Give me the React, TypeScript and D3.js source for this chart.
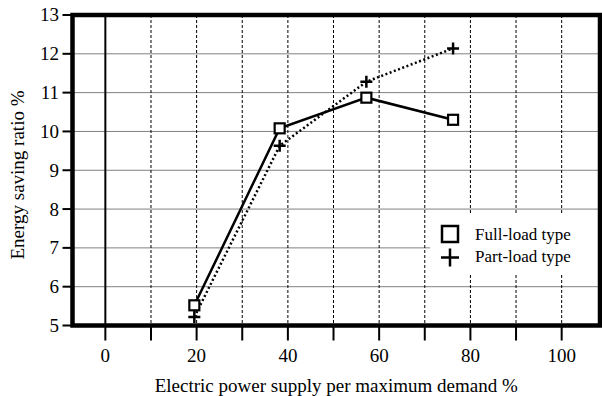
import React, { useEffect, useRef } from 'react';
import * as d3 from 'd3';

// values
const fullX = [19.5, 38.2, 57.2, 76.2];
const fullY = [5.52, 10.08, 10.87, 10.3];
const partX = [19.5, 38.2, 57.2, 76.2];
const partY = [5.22, 9.63, 11.28, 12.14];

const xTickLabels = [0, 20, 40, 60, 80, 100];
const xTicks = [0, 10, 20, 30, 40, 50, 60, 70, 80, 90, 100];
const yTicks = [5, 6, 7, 8, 9, 10, 11, 12, 13];

const seriesNames = ['Full-load type', 'Part-load type'];
const xTitle = 'Electric power supply per maximum demand %';
const yTitle = 'Energy saving ratio %';

const FONT = "'Liberation Serif', 'DejaVu Serif', serif";

export default function App() {
  const ref = useRef<SVGSVGElement>(null);

  useEffect(() => {
    const svg = d3.select(ref.current);
    svg.selectAll('*').remove();

    const left = 72.5, right = 600, top = 15, bottom = 325.5;

    const x = d3.scaleLinear().domain([-7.2, 108.4]).range([left, right]);
    const y = d3.scaleLinear().domain([5, 13]).range([bottom, top]);

    svg.append('rect').attr('width', 602).attr('height', 396).attr('fill', '#fff');

    const g = svg.append('g');

    // horizontal grid, fine dotted
    g.selectAll('.hgrid')
      .data(yTicks.filter(d => d > 5 && d < 13))
      .enter().append('line')
      .attr('x1', left).attr('x2', right)
      .attr('y1', d => y(d)).attr('y2', d => y(d))
      .attr('stroke', '#000').attr('stroke-width', 1)
      .attr('stroke-dasharray', '1,1');

    // vertical grid, dashed (0 is solid)
    g.selectAll('.vgrid')
      .data(xTicks)
      .enter().append('line')
      .attr('x1', d => x(d)).attr('x2', d => x(d))
      .attr('y1', top).attr('y2', bottom)
      .attr('stroke', '#000')
      .attr('stroke-width', d => d === 0 ? 2 : 1)
      .attr('stroke-dasharray', d => d === 0 ? null : '3,2');

    // legend background hides the grid behind it
    g.append('rect')
      .attr('x', 430).attr('y', 213).attr('width', 168).attr('height', 62)
      .attr('fill', '#fff');

    // x ticks below axis
    g.selectAll('.xtick')
      .data(xTicks)
      .enter().append('line')
      .attr('x1', d => x(d)).attr('x2', d => x(d))
      .attr('y1', bottom).attr('y2', bottom + 15)
      .attr('stroke', '#000').attr('stroke-width', 2);

    g.selectAll('.xlab')
      .data(xTickLabels)
      .enter().append('text')
      .attr('x', d => x(d)).attr('y', 362)
      .attr('text-anchor', 'middle')
      .style('font-family', FONT).style('font-size', '19px')
      .text(d => d);

    // y ticks left of axis
    g.selectAll('.ytick')
      .data(yTicks)
      .enter().append('line')
      .attr('x1', left - 10).attr('x2', left)
      .attr('y1', d => y(d)).attr('y2', d => y(d))
      .attr('stroke', '#000').attr('stroke-width', 2);

    g.selectAll('.ylab')
      .data(yTicks)
      .enter().append('text')
      .attr('x', 59).attr('y', d => y(d))
      .attr('dy', '0.34em')
      .attr('text-anchor', 'end')
      .style('font-family', FONT).style('font-size', '19px')
      .text(d => d);

    // lines
    const line = d3.line<[number, number]>()
      .x(d => x(d[0]))
      .y(d => y(d[1]));

    const fullData: [number, number][] = fullX.map((v, i) => [v, fullY[i]]);
    const partData: [number, number][] = partX.map((v, i) => [v, partY[i]]);

    g.append('path')
      .datum(partData)
      .attr('fill', 'none').attr('stroke', '#000')
      .attr('stroke-width', 2.5)
      .attr('stroke-dasharray', '2,2.5')
      .attr('d', line);

    g.append('path')
      .datum(fullData)
      .attr('fill', 'none').attr('stroke', '#000')
      .attr('stroke-width', 2.5)
      .attr('d', line);

    // markers
    const sq = 10;
    g.selectAll('.sq')
      .data(fullData)
      .enter().append('rect')
      .attr('x', d => x(d[0]) - sq / 2).attr('y', d => y(d[1]) - sq / 2)
      .attr('width', sq).attr('height', sq)
      .attr('fill', '#fff').attr('stroke', '#000').attr('stroke-width', 2.2);

    const plus = (cx: number, cy: number, r: number) =>
      `M${cx - r},${cy}H${cx + r}M${cx},${cy - r}V${cy + r}`;

    g.selectAll('.pl')
      .data(partData)
      .enter().append('path')
      .attr('d', d => plus(x(d[0]), y(d[1]), 6))
      .attr('stroke', '#000').attr('stroke-width', 2.5).attr('fill', 'none');

    // legend
    g.append('rect')
      .attr('x', 442).attr('y', 226).attr('width', 16).attr('height', 16)
      .attr('fill', '#fff').attr('stroke', '#000').attr('stroke-width', 2.5);
    g.append('path')
      .attr('d', plus(450, 257.5, 9))
      .attr('stroke', '#000').attr('stroke-width', 2.5);

    g.selectAll('.legtext')
      .data(seriesNames)
      .enter().append('text')
      .attr('x', 475).attr('y', (d, i) => 240 + i * 21.5)
      .style('font-family', FONT).style('font-size', '17px')
      .text(d => d);

    // frame
    g.append('rect')
      .attr('x', left).attr('y', top)
      .attr('width', right - left).attr('height', bottom - top)
      .attr('fill', 'none').attr('stroke', '#000').attr('stroke-width', 4.5);

    // axis titles
    svg.append('text')
      .attr('x', (left + right) / 2).attr('y', 391.5)
      .attr('text-anchor', 'middle')
      .style('font-family', FONT).style('font-size', '19px')
      .text(xTitle);

    svg.append('text')
      .attr('transform', 'translate(24,175) rotate(-90)')
      .attr('text-anchor', 'middle')
      .style('font-family', FONT).style('font-size', '19px')
      .text(yTitle);
  }, []);

  return (
    <svg ref={ref} width={602} height={396}
      style={{ position: 'absolute', left: 0, top: 0 }} />
  );
}
